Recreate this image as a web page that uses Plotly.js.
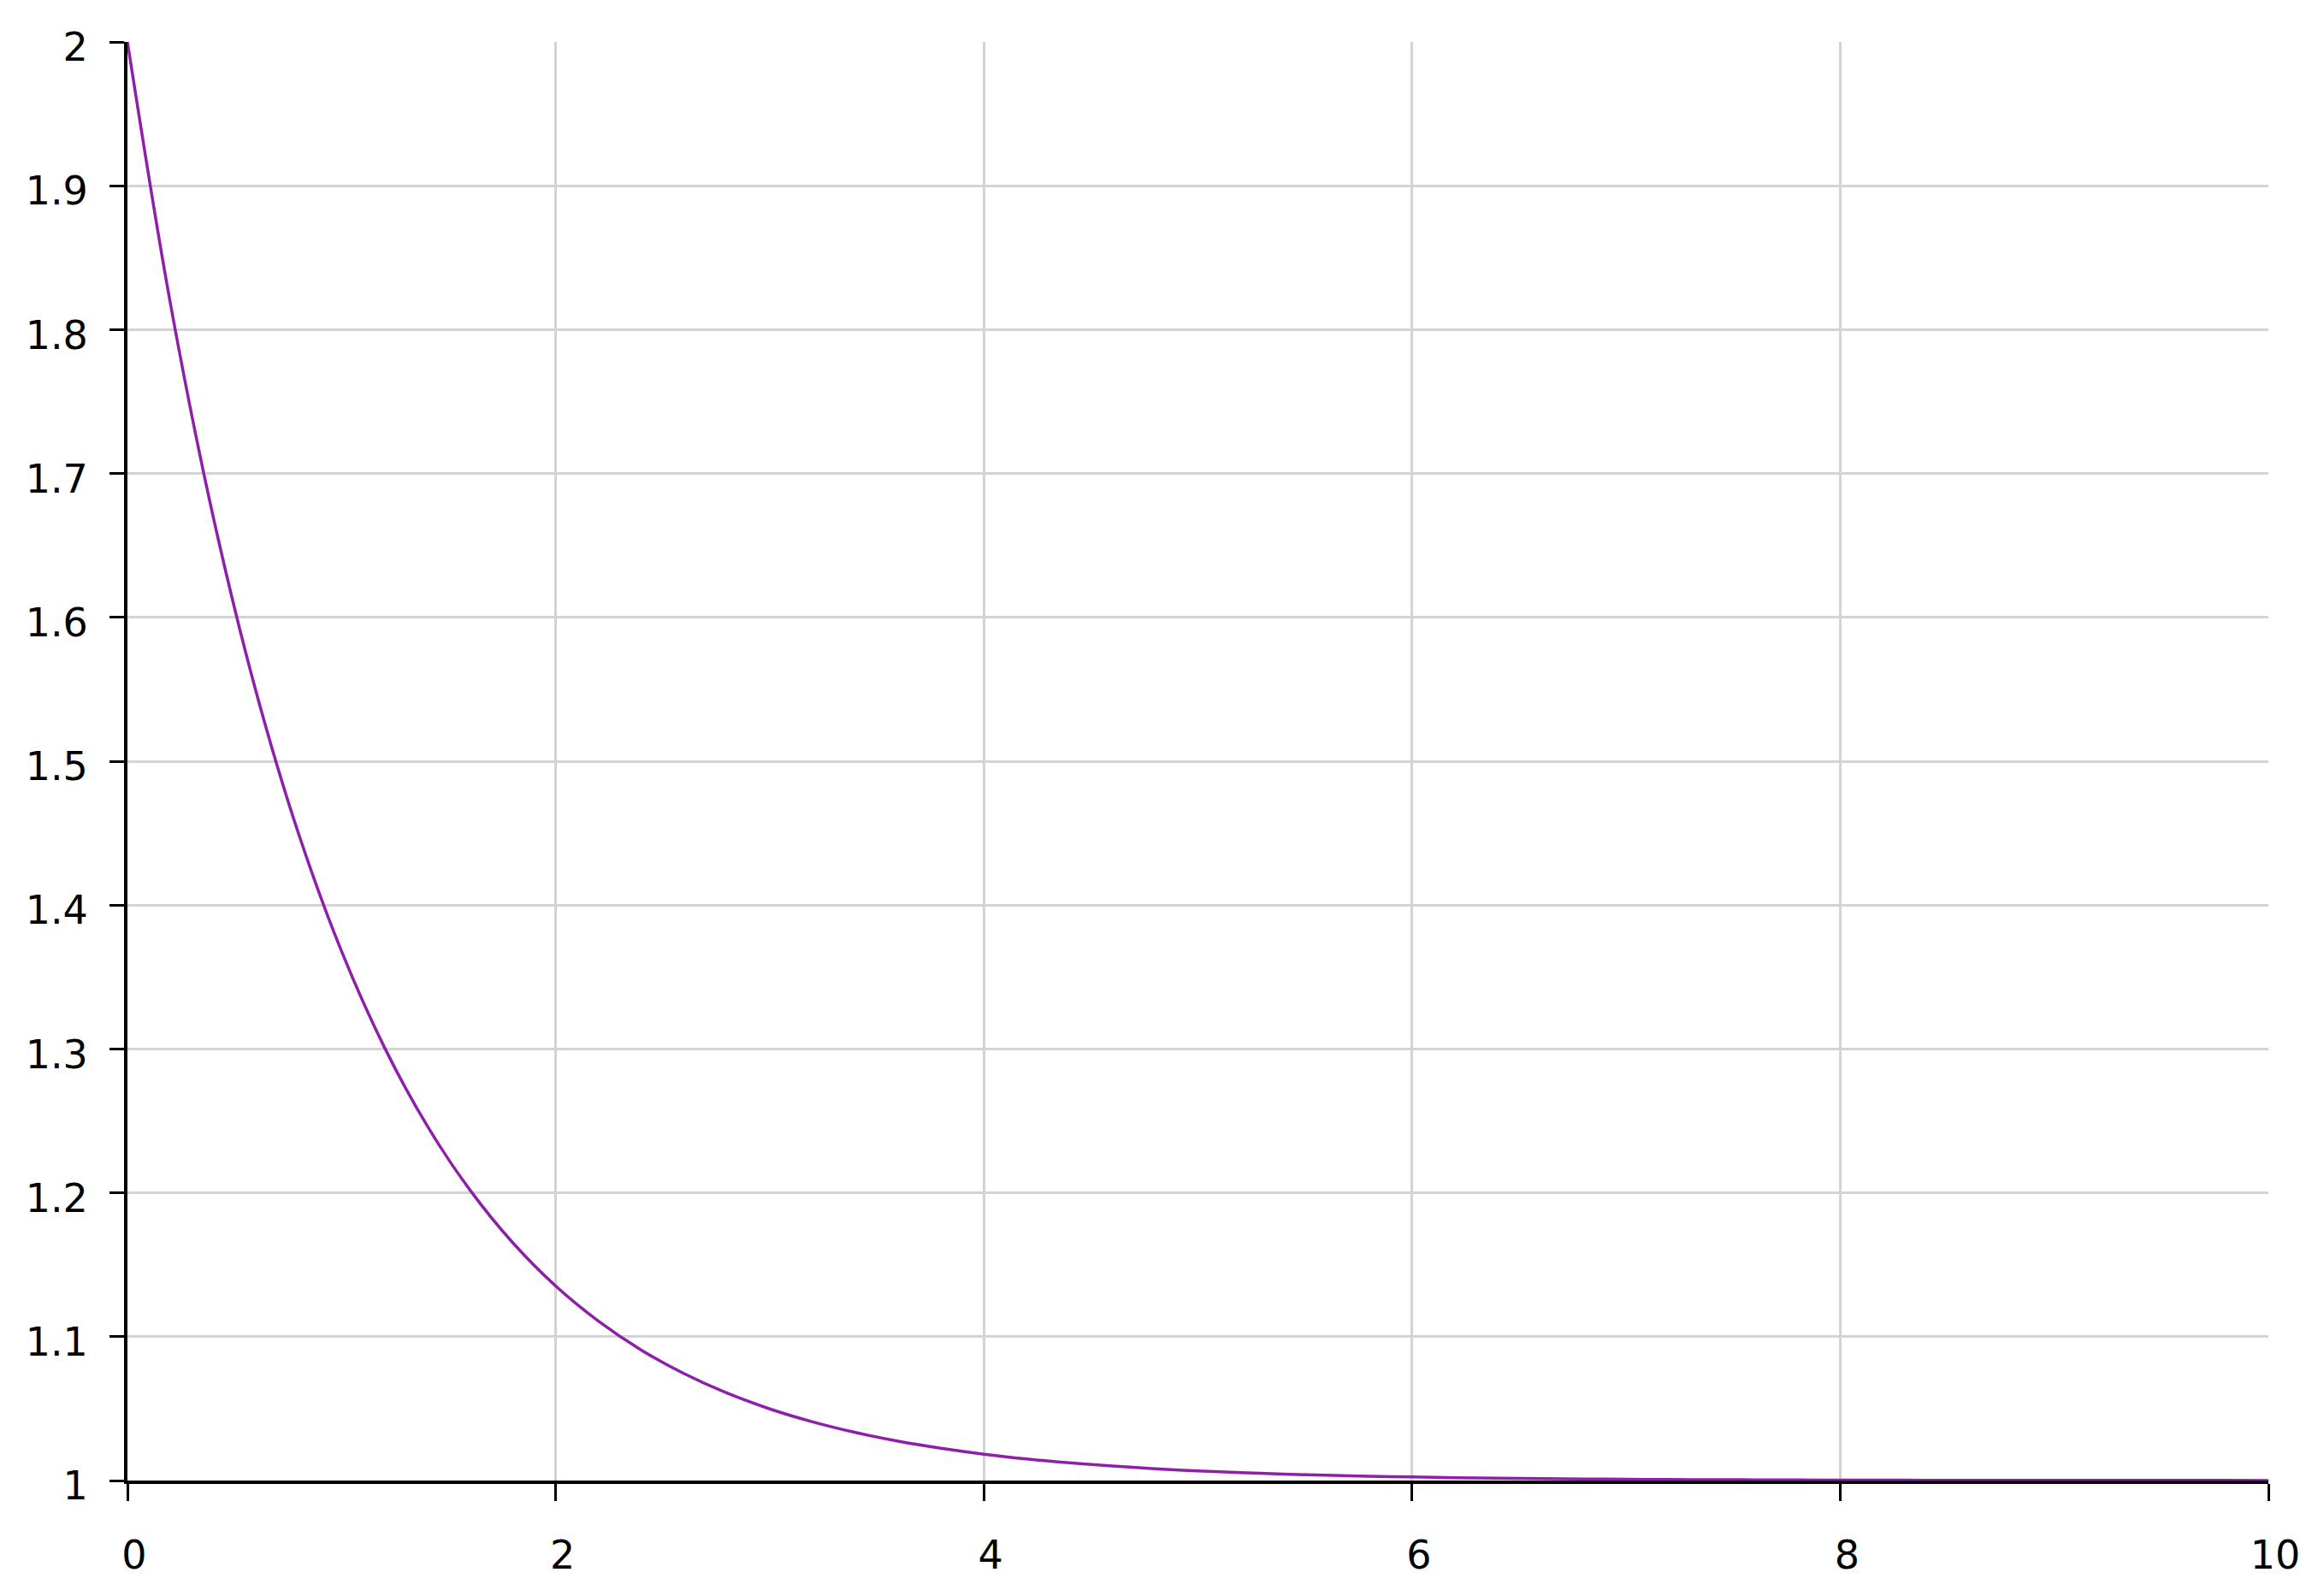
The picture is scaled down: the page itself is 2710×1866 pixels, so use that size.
<!DOCTYPE html>
<html>
<head>
<meta charset="utf-8">
<script src="https://cdn.plot.ly/plotly-3.0.1.min.js"></script>
<style>html,body{margin:0;padding:0;background:#fff;}#chart{width:2710px;height:1866px;}</style>
</head>
<body>
<div id="chart"></div>
<script>
const xValues = [0,0.2,0.4,0.6,0.8,1.0,1.2,1.4,1.6,1.8,2.0,2.2,2.4,2.6,2.8,3.0,3.2,3.4,3.6,3.8,4.0,4.2,4.4,4.6,4.8,5.0,5.2,5.4,5.6,5.8,6.0,6.2,6.4,6.6,6.8,7.0,7.2,7.4,7.6,7.8,8.0,8.2,8.4,8.6,8.8,9.0,9.2,9.4,9.6,9.8,10.0];
const yValues = [2.0000,1.8187,1.6703,1.5488,1.4493,1.3679,1.3012,1.2466,1.2019,1.1653,1.1353,1.1108,1.0907,1.0743,1.0608,1.0498,1.0408,1.0334,1.0273,1.0224,1.0183,1.0150,1.0123,1.0101,1.0082,1.0067,1.0055,1.0045,1.0037,1.0030,1.0025,1.0020,1.0017,1.0014,1.0011,1.0009,1.0007,1.0006,1.0005,1.0004,1.0003,1.0003,1.0002,1.0002,1.0002,1.0001,1.0001,1.0001,1.0001,1.0001,1.0000];
const xTickVals = [0,2,4,6,8,10];
const xTickText = ["0","2","4","6","8","10"];
const yTickVals = [1,1.1,1.2,1.3,1.4,1.5,1.6,1.7,1.8,1.9,2];
const yTickText = ["1","1.1","1.2","1.3","1.4","1.5","1.6","1.7","1.8","1.9","2"];

const tickFont = {family: "DejaVu Sans, Verdana, sans-serif", size: 46, color: "#000"};

const trace = {
  x: xValues, y: yValues, type: "scatter", mode: "lines",
  line: {color: "#8e1fa8", width: 3.5, shape: "spline"},
  hoverinfo: "skip"
};

const layout = {
  width: 2710, height: 1866,
  margin: {l: 149, r: 58, t: 49, b: 135, pad: 0},
  paper_bgcolor: "#fff", plot_bgcolor: "#fff",
  showlegend: false,
  xaxis: {
    range: [0, 10], tickmode: "array", tickvals: xTickVals, ticktext: xTickText,
    showline: true, linecolor: "#000", linewidth: 4,
    ticks: "outside", ticklen: 20, tickwidth: 3, tickcolor: "#000",
    showgrid: true, gridcolor: "#d3d3d3", gridwidth: 3, zeroline: false,
    tickfont: tickFont, ticklabelstandoff: 24, ticklabelshift: 8
  },
  yaxis: {
    range: [1, 2], tickmode: "array", tickvals: yTickVals, ticktext: yTickText,
    showline: true, linecolor: "#000", linewidth: 4,
    ticks: "outside", ticklen: 17, tickwidth: 3, tickcolor: "#000",
    showgrid: true, gridcolor: "#d3d3d3", gridwidth: 3, zeroline: false,
    tickfont: tickFont, ticklabelstandoff: 16, ticklabelshift: 6
  }
};

Plotly.newPlot("chart", [trace], layout, {staticPlot: true, displayModeBar: false});
</script>
</body>
</html>
